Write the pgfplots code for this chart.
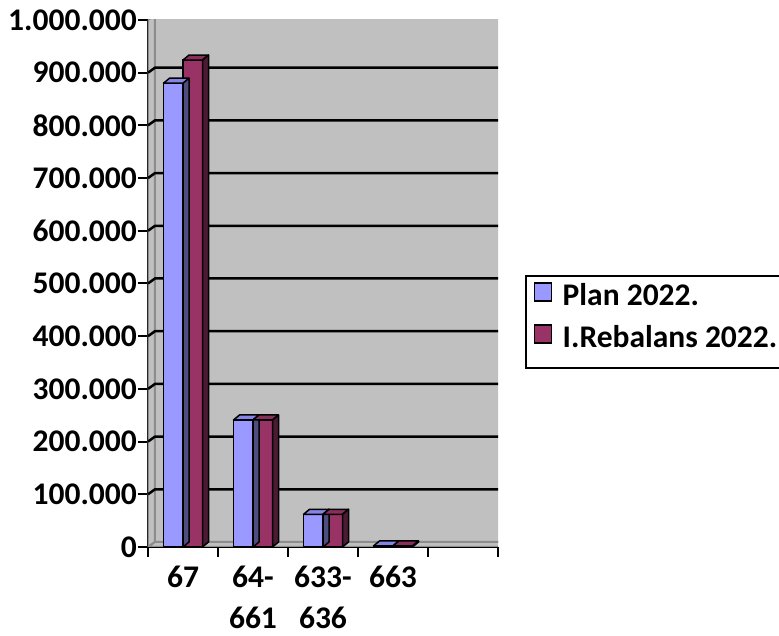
\documentclass[border=0pt]{standalone}
\usepackage{pgfplots}
\pgfplotsset{compat=1.18}
\usepackage{pgfplotstable}
\usepackage{fontspec}
\setmainfont{Carlito}

\definecolor{planblue}{HTML}{9999FF}
\definecolor{planbluetop}{HTML}{8585E6}
\definecolor{planblueside}{HTML}{4D4D80}
\definecolor{rebred}{HTML}{993366}
\definecolor{rebredtop}{HTML}{8A2E5C}
\definecolor{rebredside}{HTML}{4D1A33}
\definecolor{wallgray}{HTML}{C0C0C0}
\definecolor{walledge}{HTML}{8C8C8C}

% values per account group
\pgfplotstableread{
x plan reb
0 880000 924000
1 241000 241000
2 62000  62000
3 2000   2000
}\data

\pgfdeclareplotmark{nothing}{}

% top and side face of a 3D bar, drawn at the bar's top point
\pgfplotsset{
    cap/.style n args={6}{% left, right, left+depth, right+depth, top colour, side colour
        scatter, only marks, mark=nothing, forget plot,
        point meta=explicit symbolic,
        scatter/@pre marker code/.code={%
            \filldraw[fill=#5, draw=black, line width=1.5pt, line join=round]
                (#1,0pt) -- (#2,0pt) -- (#4,5pt) -- (#3,5pt) -- cycle;
            \filldraw[fill=#6, draw=black, line width=1.5pt, line join=round]
                (#2,0pt) -- (#4,5pt)
                -- ++(axis direction cs:0,-\pgfplotspointmeta)
                -- ++(-6pt,-5pt) -- cycle;
        },
        scatter/@post marker code/.code={},
    },
}

\begin{document}
\begin{tikzpicture}
\useasboundingbox (0,0) rectangle (779pt,636pt);
\begin{axis}[
    at={(148pt,89pt)}, anchor=south west,
    scale only axis,
    width=350pt, height=527pt,
    xmin=-0.5, xmax=4.5,
    ymin=0, ymax=1000000,
    axis x line*=bottom, axis y line*=left,
    axis line style={black, line width=2.5pt, -},
    tick align=outside,
    major tick length=10pt,
    tick style={black, line width=2pt},
    xtick={-0.5,0.5,1.5,2.5,3.5,4.5},
    x tick label as interval,
    xticklabels={67, {64-\\661}, {633-\\636}, 663, {}},
    ytick distance=100000,
    scaled y ticks=false,
    ticklabel style={font=\fontsize{31.5}{41}\selectfont\bfseries},
    yticklabel style={inner sep=1pt,
        /pgf/number format/fixed,
        /pgf/number format/1000 sep={.},
        /pgf/number format/assume math mode=true},
    xticklabel style={align=center, inner sep=1pt, yshift=-8pt},
    legend style={at={(1.077,0.516)}, anchor=north west,
        draw=black, line width=2pt,
        font=\fontsize{31.5}{36}\selectfont\bfseries,
        inner xsep=8pt, inner ysep=6pt, row sep=4pt,
        nodes={inner sep=3pt, text height=20pt, text depth=12pt}},
    legend cell align=left,
    legend image code/.code={
        \draw[#1, draw=black, line width=1.5pt] (0pt,0pt) rectangle (17pt,18pt);
        \path[draw=none, fill=none] (0pt,0pt) -- (25pt,0pt);},
]
% back wall, left wall and floor
\draw[walledge, line width=2pt, fill=wallgray]
    ([shift={(7pt,5pt)}]rel axis cs:0,0) rectangle ([shift={(7pt,5pt)}]rel axis cs:1,1);
\draw[walledge, line width=2pt, fill=wallgray, line join=round]
    (rel axis cs:0,0) -- ([shift={(7pt,5pt)}]rel axis cs:0,0)
    -- ([shift={(7pt,5pt)}]rel axis cs:0,1) -- (rel axis cs:0,1) -- cycle;
\draw[walledge, line width=2pt, fill=wallgray, line join=round]
    (rel axis cs:0,0) -- (rel axis cs:1,0)
    -- ([shift={(7pt,5pt)}]rel axis cs:1,0) -- ([shift={(7pt,5pt)}]rel axis cs:0,0) -- cycle;
% gridlines on the walls
\pgfplotsinvokeforeach{100000,200000,300000,400000,500000,600000,700000,800000,900000}{
    \draw[black, line width=2.5pt]
        (axis cs:-0.5,#1) -- ([shift={(7pt,5pt)}]axis cs:-0.5,#1)
        -- ([shift={(7pt,5pt)}]axis cs:4.5,#1);
}

% Plan 2022.
\addplot[ybar, bar width=19.5pt, bar shift=-9.75pt,
    fill=planblue, draw=black, line width=1.5pt]
    table[x=x, y=plan] {\data};
\addlegendentry{Plan 2022.}
\addplot[cap={-19.5pt}{0pt}{-13.5pt}{6pt}{planbluetop}{planblueside}]
    table[x=x, y=plan, meta=plan] {\data};

% I.Rebalans 2022.
\addplot[ybar, bar width=19.5pt, bar shift=9.75pt,
    fill=rebred, draw=black, line width=1.5pt]
    table[x=x, y=reb] {\data};
\addlegendentry{I.Rebalans 2022.}
\addplot[cap={0pt}{19.5pt}{6pt}{25.5pt}{rebredtop}{rebredside}]
    table[x=x, y=reb, meta=reb] {\data};
\end{axis}
\end{tikzpicture}
\end{document}
